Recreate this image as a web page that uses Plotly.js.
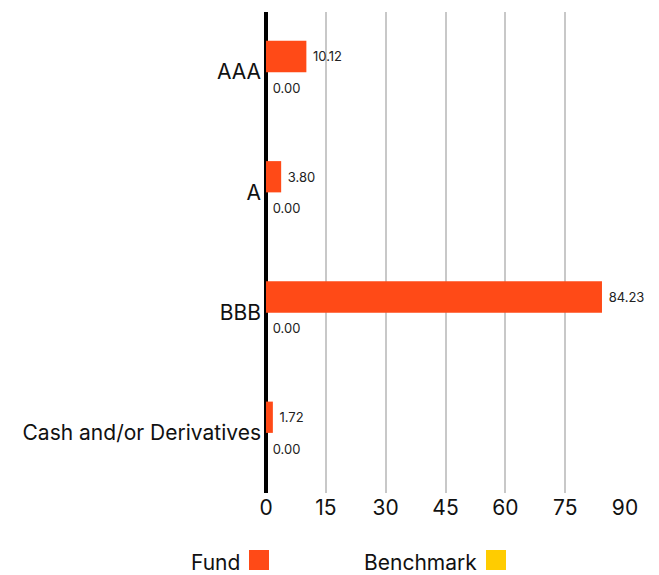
<!DOCTYPE html>
<html><head><meta charset="utf-8">
<script src="https://cdn.plot.ly/plotly-3.0.1.min.js"></script>
<style>body{margin:0;background:#fff}#chart{width:659px;height:575px}</style>
</head><body><div id="chart"></div>
<script>
const categories = ["AAA", "A", "BBB", "Cash and/or Derivatives"];
const fundValues = [10.12, 3.80, 84.23, 1.72];
const benchmarkValues = [0.00, 0.00, 0.00, 0.00];
const xTicks = [0, 15, 30, 45, 60, 75, 90];
const seriesNames = ["Fund", "Benchmark"];
const fundColor = "#FF4A17";
const benchColor = "#FFCC00";
const FONT = "Inter, 'Open Sans', sans-serif";
const fmt = v => "\u00a0" + v.toFixed(2);

const traces = [
  {type:"bar", orientation:"h", name:seriesNames[0], y:categories, x:fundValues,
   marker:{color:fundColor}, text:fundValues.map(fmt), textposition:"outside",
   textfont:{family:FONT, size:13, color:"#222"}, cliponaxis:false, hoverinfo:"x+y"},
  {type:"bar", orientation:"h", name:seriesNames[1], y:categories, x:benchmarkValues,
   marker:{color:benchColor}, text:benchmarkValues.map(fmt), textposition:"outside",
   textfont:{family:FONT, size:13, color:"#222"}, cliponaxis:false, hoverinfo:"x+y"}
];

const PW = 359, PH = 481, PB = 493;
const layout = {
  width:659, height:575,
  margin:{l:266, r:34, t:12, b:82},
  paper_bgcolor:"#fff", plot_bgcolor:"#fff",
  barmode:"group", bargap:0.48, bargroupgap:0,
  showlegend:false,
  font:{family:FONT, color:"#111"},
  xaxis:{range:[0,90], tickvals:xTicks, ticktext:xTicks.map(String),
    showgrid:true, gridcolor:"#c8c8c8", gridwidth:2,
    zeroline:true, zerolinecolor:"#000", zerolinewidth:4,
    showline:false, ticks:"", tickfont:{family:FONT, size:21, color:"#111"}, fixedrange:true},
  yaxis:{autorange:"reversed", showgrid:false, zeroline:false, showline:false, ticks:"",
    ticklabelstandoff:4,
    tickfont:{family:FONT, size:21, color:"#111"}, fixedrange:true},
  annotations:[
    {xref:"paper", yref:"paper", x:(242-266)/PW, y:-(562-PB)/PH, xanchor:"right", yanchor:"middle",
     text:seriesNames[0], showarrow:false, font:{family:FONT, size:21, color:"#111"}},
    {xref:"paper", yref:"paper", x:(479-266)/PW, y:-(562-PB)/PH, xanchor:"right", yanchor:"middle",
     text:seriesNames[1], showarrow:false, font:{family:FONT, size:21, color:"#111"}}
  ],
  shapes:[
    {type:"rect", xref:"paper", yref:"paper", x0:(249-266)/PW, x1:(269-266)/PW,
     y0:-(570-PB)/PH, y1:-(550-PB)/PH, fillcolor:fundColor, line:{width:0}},
    {type:"rect", xref:"paper", yref:"paper", x0:(486-266)/PW, x1:(506-266)/PW,
     y0:-(570-PB)/PH, y1:-(550-PB)/PH, fillcolor:benchColor, line:{width:0}}
  ]
};

Plotly.newPlot("chart", traces, layout, {displayModeBar:false, staticPlot:true});
</script></body></html>
